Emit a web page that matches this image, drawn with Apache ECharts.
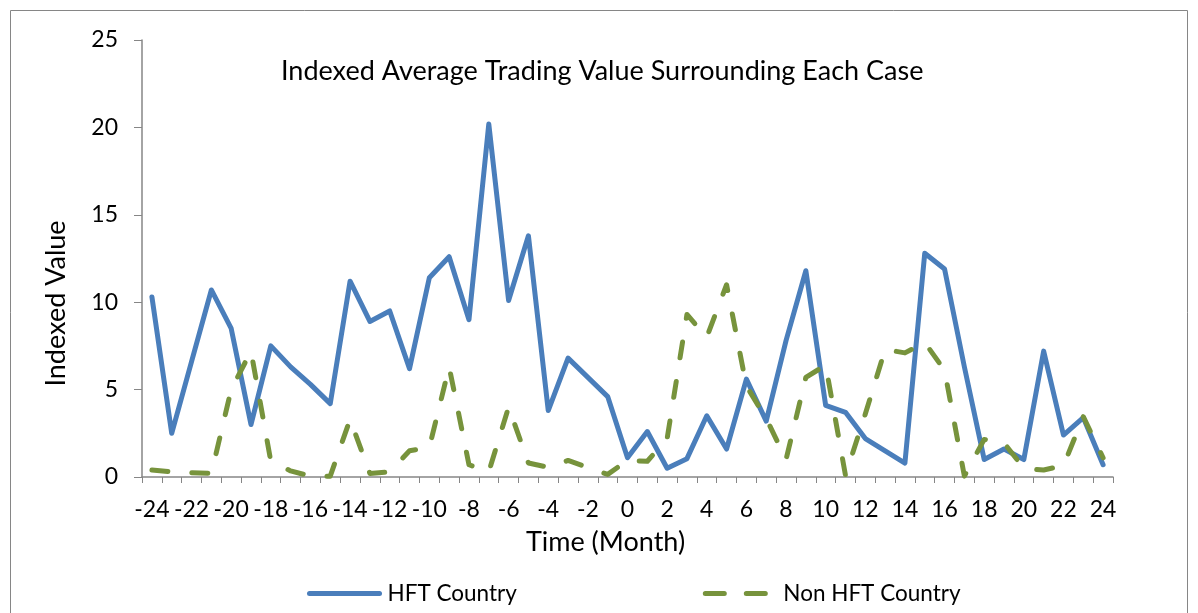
<!DOCTYPE html>
<html>
<head>
<meta charset="utf-8">
<script src="https://cdn.jsdelivr.net/npm/echarts@6/dist/echarts.min.js"></script>
<style>
    html, body { margin: 0; padding: 0; background: #fff; }
    #chart { width: 1198px; height: 613px; }
</style>
</head>
<body>
<div id="chart"></div>
<script>
    // months relative to the case
    var months = [];
    for (var m = -24; m <= 24; m++) months.push(String(m));

    var hftCountry = [10.3, 2.5, 6.6, 10.7, 8.5, 3.0, 7.5, 6.3, 5.3, 4.2,
        11.2, 8.9, 9.5, 6.2, 11.4, 12.6, 9.0, 20.2, 10.1, 13.8,
        3.8, 6.8, 5.7, 4.6, 1.1, 2.6, 0.5, 1.05, 3.5,
        1.6, 5.6, 3.2, 7.8, 11.8, 4.1, 3.7, 2.2, 1.5, 0.8,
        12.8, 11.9, 6.3, 1.0, 1.6, 1.0, 7.2, 2.4, 3.4, 0.7];

    var nonHftCountry = [0.4, 0.3, 0.25, 0.2, 5.0, 7.2, 0.9, 0.35, 0.05, 0.05,
        3.3, 0.2, 0.3, 1.5, 1.7, 6.3, 0.7, 0.3, 4.0, 0.8,
        0.55, 0.95, 0.55, 0.15, 0.95, 0.9, 2.2, 9.3, 8.0, 11.0,
        5.2, 3.35, 1.0, 5.7, 6.4, 0.1, 3.6, 7.3, 7.1, 7.7,
        6.1, 0.05, 2.15, 1.95, 0.5, 0.4, 0.65, 3.45, 1.1];

    var font = 'Lato';
    var axisGray = '#868686';

    var chart = echarts.init(document.getElementById('chart'));
    chart.setOption({
        animation: false,
        backgroundColor: '#fff',
        textStyle: { fontFamily: font, color: '#000' },
        //外框
        graphic: [{
            type: 'rect',
            shape: { x: 10.5, y: 10.5, width: 1177, height: 700 },
            style: { fill: 'none', stroke: axisGray, lineWidth: 1 },
            silent: true
        }],
        title: {
            text: 'Indexed Average Trading Value Surrounding Each Case',
            left: 276,
            top: 53,
            textStyle: { fontFamily: font, fontSize: 27, fontWeight: 'normal', color: '#000' }
        },
        legend: {
            left: 302,
            top: 577,
            itemWidth: 70,
            itemHeight: 14,
            itemGap: 186,
            itemStyle: { opacity: 0 },
            lineStyle: { width: 5 },
            textStyle: { fontFamily: font, fontSize: 22.5, color: '#000', padding: [0, 0, 0, 3] },
            data: [
                'HFT Country',
                { name: 'Non HFT Country', lineStyle: { type: [19, 22] } }
            ]
        },
        grid: { left: 142, right: 85, top: 40, bottom: 136 },
        xAxis: {
            type: 'category',
            data: months,
            boundaryGap: true,
            name: 'Time (Month)',
            nameLocation: 'middle',
            nameGap: 52,
            nameTextStyle: { fontFamily: font, fontSize: 27, color: '#000', padding: [0, 44, 0, 0] },
            axisLine: { lineStyle: { color: axisGray, width: 1.5 } },
            axisTick: { show: true, interval: 0, length: 6, lineStyle: { color: axisGray } },
            axisLabel: { interval: 1, fontSize: 23, color: '#000', margin: 21 }
        },
        yAxis: {
            type: 'value',
            min: 0,
            max: 25,
            interval: 5,
            name: 'Indexed Value',
            nameLocation: 'middle',
            nameGap: 72,
            nameTextStyle: { fontFamily: font, fontSize: 27, color: '#000', padding: [0, 90, 0, 0] },
            axisLine: { show: true, lineStyle: { color: axisGray, width: 1.5 } },
            axisTick: { show: true, length: 8, inside: false, lineStyle: { color: axisGray } },
            axisLabel: { fontSize: 23, color: '#000', margin: 24 },
            splitLine: { show: false }
        },
        series: [
            {
                name: 'HFT Country',
                type: 'line',
                data: hftCountry,
                symbol: 'none',
                color: '#4A7EBB',
                lineStyle: { width: 5, color: '#4A7EBB', cap: 'round', join: 'round' }
            },
            {
                name: 'Non HFT Country',
                type: 'line',
                data: nonHftCountry,
                symbol: 'none',
                color: '#77933C',
                lineStyle: { width: 5, color: '#77933C', type: [16, 24], cap: 'round', join: 'round' }
            }
        ]
    });
</script>
</body>
</html>
